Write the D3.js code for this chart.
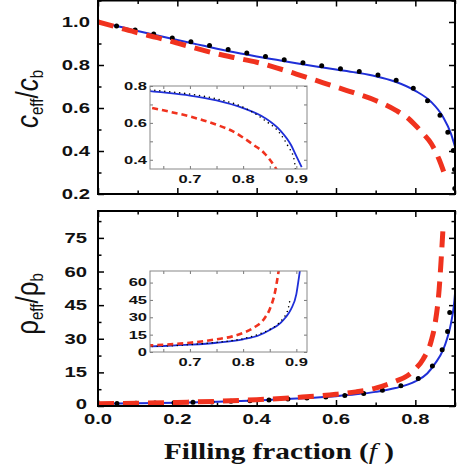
<!DOCTYPE html>
<html>
<head>
<meta charset="utf-8">
<script src="https://cdn.jsdelivr.net/npm/d3@7"></script>
<style>
body{margin:0;background:#fff}
svg{display:block}
</style>
</head>
<body>
<svg id="chart" width="457" height="472"></svg>
<script>
// ---- data ----
// top panel: c_eff / c_b
var topBlueF  = [0,.05,.1,.15,.2,.25,.3,.35,.4,.45,.5,.55,.6,.65,.7,.75,.8,.84,.87,.89,.9,.91]
var topBlueV  = [1,.98,.958,.937,.916,.896,.876,.857,.84,.824,.808,.793,.779,.765,.748,.722,.68,.628,.558,.48,.42,.36]
var topBlackF = [0,.05,.1,.15,.2,.25,.3,.35,.4,.45,.5,.55,.6,.65,.7,.75,.8,.84,.87,.885,.895,.898,.899,.8995]
var topBlackV = [1,.98,.96,.94,.921,.902,.883,.864,.847,.831,.815,.8,.786,.772,.756,.73,.685,.615,.54,.47,.41,.35,.29,.22]
var topRedF   = [0,.05,.1,.15,.2,.25,.3,.35,.4,.45,.5,.55,.6,.65,.7,.75,.78,.8,.82,.84,.86,.876]
var topRedV   = [1,.975,.95,.927,.902,.876,.852,.832,.813,.787,.758,.728,.698,.668,.635,.59,.555,.52,.48,.435,.36,.28]

// bottom panel: rho_eff / rho_b
var botBlueF  = [0,.1,.2,.3,.4,.5,.6,.65,.7,.75,.8,.83,.85,.87,.88,.89,.9,.905,.909]
var botBlueV  = [1,1.2,1.5,1.9,2.5,3.3,4.4,5.2,6.3,8,11,14.5,19,25,30,37,50,65,78]
var botBlackF = [0,.1,.2,.3,.4,.5,.6,.7,.75,.8,.83,.85,.865,.875,.881,.885,.888]
var botBlackV = [1,1.2,1.5,1.9,2.5,3.3,4.4,6.4,8.4,11.5,15.5,19.5,24,29,33,38,45]
var botRedF   = [0,.1,.2,.3,.4,.5,.6,.65,.7,.75,.78,.8,.82,.84,.85,.86,.865,.87]
var botRedV   = [1,1.2,1.6,2.1,2.8,3.8,5.2,6.3,8,11,13.5,16.5,21,29,37,52,65,80]

// tick labels
var xTickLabels   = ["0.0","0.2","0.4","0.6","0.8"]
var topTickLabels = ["0.2","0.4","0.6","0.8","1.0"]
var botTickLabels = ["0","15","30","45","60","75"]
var insetXLabels  = ["0.7","0.8","0.9"]
var topInsetYLabels = ["0.4","0.6","0.8"]
var botInsetYLabels = ["0","15","30","45","60"]

var BLUE = "#1f2fd8", RED = "#f0321e"
var svg = d3.select("#chart")
var STRETCH = 1.35

function zip(fs, vs){ return fs.map(function(f,i){ return {f:f, v:vs[i]} }) }

function label(g, x, y, s, size, anchor, sx){
  g.append("text")
    .attr("transform", "translate(" + x + "," + y + ") scale(" + sx + ",1)")
    .attr("text-anchor", anchor)
    .attr("dominant-baseline", "central")
    .style("font-family", "Liberation Sans, Arial, sans-serif")
    .style("font-weight", "bold")
    .style("font-size", size + "px")
    .style("fill", "#111")
    .text(s)
}

function ticks(g, axisFn, scale, vals, size, color, width){
  g.append("g").call(axisFn(scale).tickValues(vals).tickSize(size).tickFormat(""))
    .call(function(a){ a.select(".domain").remove(); a.selectAll("line").attr("stroke", color).attr("stroke-width", width) })
}

function panel(o){
  var g = svg.append("g").attr("transform", "translate(" + o.left + "," + o.top + ")")
  var x = d3.scaleLinear().domain(o.xDom).range([0, o.w])
  var y = d3.scaleLinear().domain(o.yDom).range([o.h, 0])
  var clipId = "clip" + o.id
  g.append("clipPath").attr("id", clipId).append("rect").attr("width", o.w).attr("height", o.h)

  if(o.inset){
    g.append("rect").attr("width", o.w).attr("height", o.h).attr("fill", "#fff")
  }

  var tk = g.append("g")
  var tc = o.inset ? "#777" : "#000"
  var tw = o.inset ? 1 : 1.5
  ticks(tk.append("g").attr("transform", "translate(0," + o.h + ")"), d3.axisBottom, x, o.xMajor, -o.tMaj, tc, tw)
  ticks(tk.append("g").attr("transform", "translate(0," + o.h + ")"), d3.axisBottom, x, o.xMinor, -o.tMin, tc, tw)
  ticks(tk.append("g"), d3.axisTop, x, o.xMajor, -o.tMaj, tc, tw)
  ticks(tk.append("g"), d3.axisTop, x, o.xMinor, -o.tMin, tc, tw)
  ticks(tk.append("g"), d3.axisLeft, y, o.yMajor, -o.tMaj, tc, tw)
  ticks(tk.append("g"), d3.axisLeft, y, o.yMinor, -o.tMin, tc, tw)
  ticks(tk.append("g").attr("transform", "translate(" + o.w + ",0)"), d3.axisRight, y, o.yMajor, -o.tMaj, tc, tw)
  ticks(tk.append("g").attr("transform", "translate(" + o.w + ",0)"), d3.axisRight, y, o.yMinor, -o.tMin, tc, tw)

  var line = d3.line().x(function(d){ return x(d.f) }).y(function(d){ return y(d.v) }).curve(d3.curveMonotoneX)
  var curves = g.append("g").attr("clip-path", "url(#" + clipId + ")")

  o.series.forEach(function(s){
    var p = curves.append("path").datum(s.data)
      .attr("d", line)
      .attr("fill", "none")
      .attr("stroke", s.color)
      .attr("stroke-width", s.width)
    if(s.dash) p.attr("stroke-dasharray", s.dash)
    if(s.cap) p.attr("stroke-linecap", s.cap)
  })

  g.append("rect").attr("width", o.w).attr("height", o.h)
    .attr("fill", "none").attr("stroke", o.inset ? "#888" : "#000").attr("stroke-width", o.inset ? 1 : 2)

  if(o.yLabels){
    o.yLabels.forEach(function(s){
      label(g, o.yLabelX, y(+s) + (o.yLabelShift && +s == 0 ? o.yLabelShift : 0), s, o.fs, "end", o.sx)
    })
  }
  if(o.xLabels){
    o.xLabels.forEach(function(s){
      label(g, x(+s), o.h + o.xLabelY, s, o.fs, "middle", o.sx)
    })
  }
  return {g:g, x:x, y:y}
}

function mainSeries(b, k, r){
  return [
    {data:b, color:BLUE, width:2},
    {data:k, color:"#000", width:5, dash:"0 19", cap:"round"},
    {data:r, color:RED, width:5, dash:"16 9"}
  ]
}
function insetSeries(b, k, r){
  return [
    {data:b, color:BLUE, width:1.8},
    {data:k, color:"#000", width:1.6, dash:"0 5", cap:"round"},
    {data:r, color:RED, width:2.6, dash:"6 4"}
  ]
}

// top main
panel({id:"t", left:98, top:0.5, w:357, h:193.5, xDom:[0,0.9], yDom:[0.2,1.1],
  xMajor:[0,.2,.4,.6,.8], xMinor:[.1,.3,.5,.7,.9],
  yMajor:[.2,.4,.6,.8,1.0], yMinor:[.3,.5,.7,.9,1.1],
  tMaj:6, tMin:3.5, fs:15, sx:STRETCH,
  yLabels:topTickLabels, yLabelX:-8,
  series:mainSeries(zip(topBlueF, topBlueV), zip(topBlackF, topBlackV), zip(topRedF, topRedV))})

// bottom main
panel({id:"b", left:98, top:211, w:357, h:195, xDom:[0,0.9], yDom:[0,87],
  xMajor:[0,.2,.4,.6,.8], xMinor:[.1,.3,.5,.7,.9],
  yMajor:[0,15,30,45,60,75], yMinor:[7.5,22.5,37.5,52.5,67.5,82.5],
  tMaj:6, tMin:3.5, fs:15, sx:STRETCH,
  yLabels:botTickLabels, yLabelX:-11, yLabelShift:-2,
  xLabels:xTickLabels, xLabelY:13,
  series:mainSeries(zip(botBlueF, botBlueV), zip(botBlackF, botBlackV), zip(botRedF, botRedV))})

// top inset
panel({id:"ti", inset:true, left:150, top:86, w:157, h:83, xDom:[0.625,0.92], yDom:[0.35,0.8],
  xMajor:[.7,.8,.9], xMinor:[.65,.75,.85],
  yMajor:[.4,.6,.8], yMinor:[.5,.7],
  tMaj:3, tMin:3, fs:11, sx:1.5,
  yLabels:topInsetYLabels, yLabelX:-3,
  xLabels:insetXLabels, xLabelY:10,
  series:insetSeries(zip(topBlueF, topBlueV), zip(topBlackF, topBlackV), zip(topRedF, topRedV))})

// bottom inset
panel({id:"bi", inset:true, left:150, top:271, w:157, h:81, xDom:[0.625,0.92], yDom:[0,70],
  xMajor:[.7,.8,.9], xMinor:[.65,.75,.85],
  yMajor:[0,15,30,45,60], yMinor:[],
  tMaj:3, tMin:3, fs:11, sx:1.5,
  yLabels:botInsetYLabels, yLabelX:-3,
  xLabels:insetXLabels, xLabelY:10,
  series:insetSeries(zip(botBlueF, botBlueV), zip(botBlackF, botBlackV), zip(botRedF, botRedV))})

// axis titles
function yTitle(cx, cy, sym, italic){
  var t = svg.append("text")
    .attr("transform", "translate(" + cx + "," + cy + ") rotate(-90) scale(1,1.2)")
    .attr("text-anchor", "middle")
    .style("font-family", "Liberation Sans, Arial, sans-serif")
    .style("font-size", "26px")
    .style("fill", "#111")
  t.append("tspan").text(sym).style("font-style", italic ? "italic" : "normal")
  t.append("tspan").text("eff").style("font-size", "15px").attr("dy", 4)
  t.append("tspan").text("/").attr("dy", -4)
  t.append("tspan").text(sym).style("font-style", italic ? "italic" : "normal")
  t.append("tspan").text("b").style("font-size", "15px").attr("dy", 4)
}
yTitle(38, 99, "c", true)
yTitle(38, 304, "\u03c1", false)

var xt = svg.append("text")
  .attr("transform", "translate(279,459) scale(1.22,1)")
  .attr("text-anchor", "middle")
  .style("font-family", "Liberation Serif, Times New Roman, serif")
  .style("font-weight", "bold")
  .style("font-size", "24px")
  .style("fill", "#111")
xt.append("tspan").text("Filling fraction (")
xt.append("tspan").text("f").style("font-style", "italic").style("font-weight", "normal")
xt.append("tspan").text(" )")
</script>
</body>
</html>
